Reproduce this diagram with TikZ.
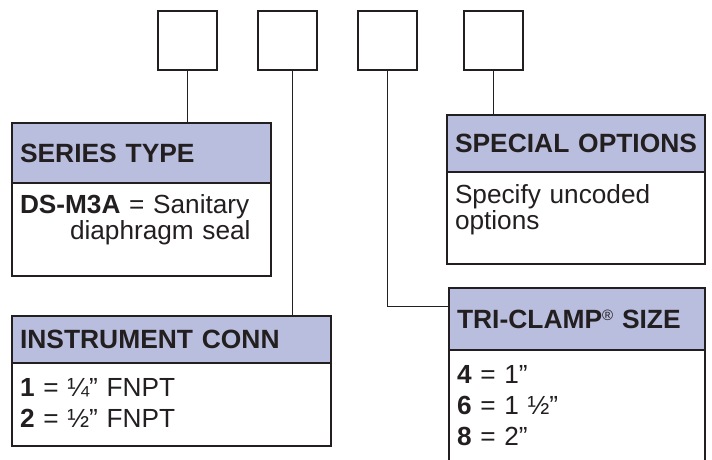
\documentclass[tikz,border=0pt]{standalone}
\usepackage{fontspec}
\setmainfont{Liberation Sans}
\usetikzlibrary{positioning}
\definecolor{inkgray}{RGB}{35,31,32}
\definecolor{headblue}{RGB}{185,190,222}

\begin{document}
\begin{tikzpicture}[
    x=1pt, y=1pt,
    every node/.style={text=inkgray, inner sep=0pt, outer sep=0pt},
    codebox/.style={draw=inkgray, line width=2.2pt, minimum size=59pt},
    headbox/.style={draw=inkgray, line width=2.2pt, fill=headblue, anchor=north west, align=left, inner xsep=8pt, font=\fontsize{26.4}{26.4}\selectfont\bfseries},
    bodybox/.style={draw=inkgray, line width=2.2pt, fill=white},
    bodytext/.style={anchor=base west, align=left, text width=240pt, font=\fontsize{26.2}{26}\selectfont},
    listtext/.style={bodytext, font=\fontsize{26.2}{31}\selectfont},
    link/.style={draw=inkgray, line width=1.8pt}
    ]
    \useasboundingbox (0,0) rectangle (712,459);

    % code boxes along the top
    \node (code1) [codebox] at (187.5,418.5) {};
    \node (code2) [codebox, right=41pt of code1] {};
    \node (code3) [codebox, right=41pt of code2] {};
    \node (code4) [codebox, right=47pt of code3] {};

    % series type
    \node (serieshead) [headbox, text width=243pt, minimum height=60pt] at (12,336) {SERIES TYPE};
    \node (seriesbody) [bodybox, below=0pt of serieshead, minimum width=259pt, minimum height=93pt] {};
    \node (seriestext) [bodytext] at ([shift={(8,-30)}]seriesbody.north west) {\textbf{DS-M3A} = Sanitary\\\hspace*{50pt}diaphragm seal};

    % instrument connection
    \node (instrhead) [headbox, text width=303pt, minimum height=47pt] at (12,143) {INSTRUMENT CONN};
    \node (instrbody) [bodybox, below=0pt of instrhead, minimum width=319pt, minimum height=83pt] {};
    \node (instrtext) [listtext] at ([shift={(8,-33)}]instrbody.north west) {\textbf{1} = ¼” FNPT\\\textbf{2} = ½” FNPT};

    % special options
    \node (spechead) [headbox, text width=242pt, minimum height=57pt] at (447,344) {\mbox{SPECIAL OPTIONS}};
    \node (specbody) [bodybox, below=0pt of spechead, minimum width=258pt, minimum height=92pt] {};
    \node (spectext) [bodytext] at ([shift={(8,-31)}]specbody.north west) {Specify uncoded\\options};

    % tri-clamp size (runs off the bottom)
    \node (trihead) [headbox, text width=240pt, minimum height=62pt] at (449,171) {TRI-CLAMP\raisebox{8pt}{\fontsize{15}{15}\selectfont\mdseries ®} SIZE};
    \node (tribody) [bodybox, below=0pt of trihead, minimum width=256pt, minimum height=130pt] {};
    \node (tritext) [listtext] at ([shift={(8,-33)}]tribody.north west) {\textbf{4} = 1”\\\textbf{6} = 1 ½”\\\textbf{8} = 2”};

    % connectors
    \coordinate (tap2) at ([xshift=5pt]code2.south);
    \draw[link] (code1.south) -- (code1.south |- serieshead.north);
    \draw[link] (tap2) -- (tap2 |- instrhead.north);
    \draw[link] (code3.south) |- ([yshift=12.5pt]trihead.west);
    \draw[link] (code4.south) -- (code4.south |- spechead.north);
\end{tikzpicture}
\end{document}
